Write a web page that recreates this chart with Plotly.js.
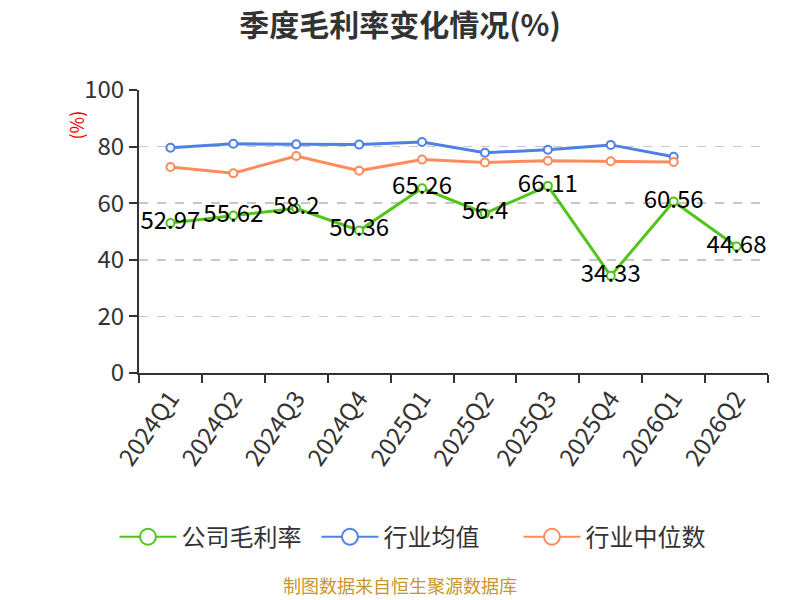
<!DOCTYPE html>
<html>
<head>
<meta charset="utf-8">
<script src="https://cdn.plot.ly/plotly-3.0.1.min.js"></script>
<style>
  html, body { margin: 0; padding: 0; background: #fff; }
  #chart { width: 800px; height: 600px; }
</style>
</head>
<body>
<div id="chart"></div>
<script>
var quarters = ['2024Q1', '2024Q2', '2024Q3', '2024Q4', '2025Q1', '2025Q2', '2025Q3', '2025Q4', '2026Q1', '2026Q2'];
var companyMargin = [52.97, 55.62, 58.2, 50.36, 65.26, 56.4, 66.11, 34.33, 60.56, 44.68];
var industryAvg = [79.6, 81.0, 80.8, 80.7, 81.6, 77.8, 78.9, 80.6, 76.4, null];
var industryMedian = [72.8, 70.6, 76.7, 71.5, 75.4, 74.4, 75.0, 74.8, 74.6, null];

var seriesNames = ['公司毛利率', '行业均值', '行业中位数'];
var seriesColors = ['#52c41a', '#4e80e6', '#ff8a5b'];

var font = '"Noto Sans CJK SC", "Noto Sans", sans-serif';

function lineTrace(i, ys, labels) {
  var t = {
    x: quarters,
    y: ys,
    name: seriesNames[i],
    type: 'scatter',
    mode: labels ? 'lines+markers+text' : 'lines+markers',
    line: { color: seriesColors[i], width: 3 },
    marker: { size: 8, color: '#fff', line: { color: seriesColors[i], width: 2 } },
    cliponaxis: false,
    showlegend: false
  };
  if (labels) {
    t.text = ys.map(String);
    t.textposition = 'middle center';
    t.textfont = { family: font, size: 24, color: '#000' };
  }
  return t;
}

// legend-only entries with bigger symbols
function legendTrace(i) {
  return {
    x: [null],
    y: [null],
    name: seriesNames[i],
    type: 'scatter',
    mode: 'lines+markers',
    line: { color: seriesColors[i], width: 2 },
    marker: { size: 16, color: '#fff', line: { color: seriesColors[i], width: 2 } },
    hoverinfo: 'skip'
  };
}

var data = [
  lineTrace(0, companyMargin, true),
  lineTrace(1, industryAvg, false),
  lineTrace(2, industryMedian, false),
  legendTrace(0),
  legendTrace(1),
  legendTrace(2)
];

var layout = {
  width: 800,
  height: 600,
  margin: { l: 139, r: 32, t: 90, b: 227 },
  paper_bgcolor: '#fff',
  plot_bgcolor: '#fff',
  font: { family: font, color: '#333' },
  title: {
    text: '<b>季度毛利率变化情况(%)</b>',
    font: { family: font, size: 30, color: '#333' },
    x: 0.5, xanchor: 'center',
    y: 0.958, yanchor: 'middle'
  },
  xaxis: {
    type: 'category',
    range: [-0.5, 9.5],
    tickson: 'boundaries',
    ticks: 'outside',
    ticklen: 8,
    tickwidth: 2,
    tickcolor: '#333',
    showline: true,
    linecolor: '#333',
    linewidth: 2,
    showgrid: false,
    tickangle: -55,
    tickfont: { family: font, size: 24, color: '#333' },
    fixedrange: true
  },
  yaxis: {
    range: [0, 100],
    dtick: 20,
    ticks: 'outside',
    ticklen: 8,
    tickwidth: 2,
    tickcolor: '#333',
    showline: true,
    linecolor: '#333',
    linewidth: 2,
    showgrid: true,
    gridcolor: '#c8c8c8',
    griddash: 'dash',
    gridwidth: 1.5,
    zeroline: false,
    tickfont: { family: font, size: 24, color: '#333' },
    fixedrange: true
  },
  showlegend: true,
  legend: {
    orientation: 'h',
    x: -0.039, xanchor: 'left',
    y: -0.58, yanchor: 'middle',
    font: { family: font, size: 24, color: '#333' },
    itemwidth: 57,
    entrywidth: 130,
    entrywidthmode: 'pixels'
  },
  annotations: [
    {
      text: '(%)',
      xref: 'paper', yref: 'paper',
      x: -0.1, y: 0.875,
      xanchor: 'center', yanchor: 'middle',
      textangle: -90,
      showarrow: false,
      font: { family: font, size: 18, color: '#e00' }
    },
    {
      text: '制图数据来自恒生聚源数据库',
      xref: 'paper', yref: 'paper',
      x: 0.415, y: -0.75,
      xanchor: 'center', yanchor: 'middle',
      showarrow: false,
      font: { family: font, size: 18, color: '#c8962a' }
    }
  ]
};

Plotly.newPlot(document.getElementById('chart'), data, layout, { displayModeBar: false, staticPlot: true });
</script>
</body>
</html>
